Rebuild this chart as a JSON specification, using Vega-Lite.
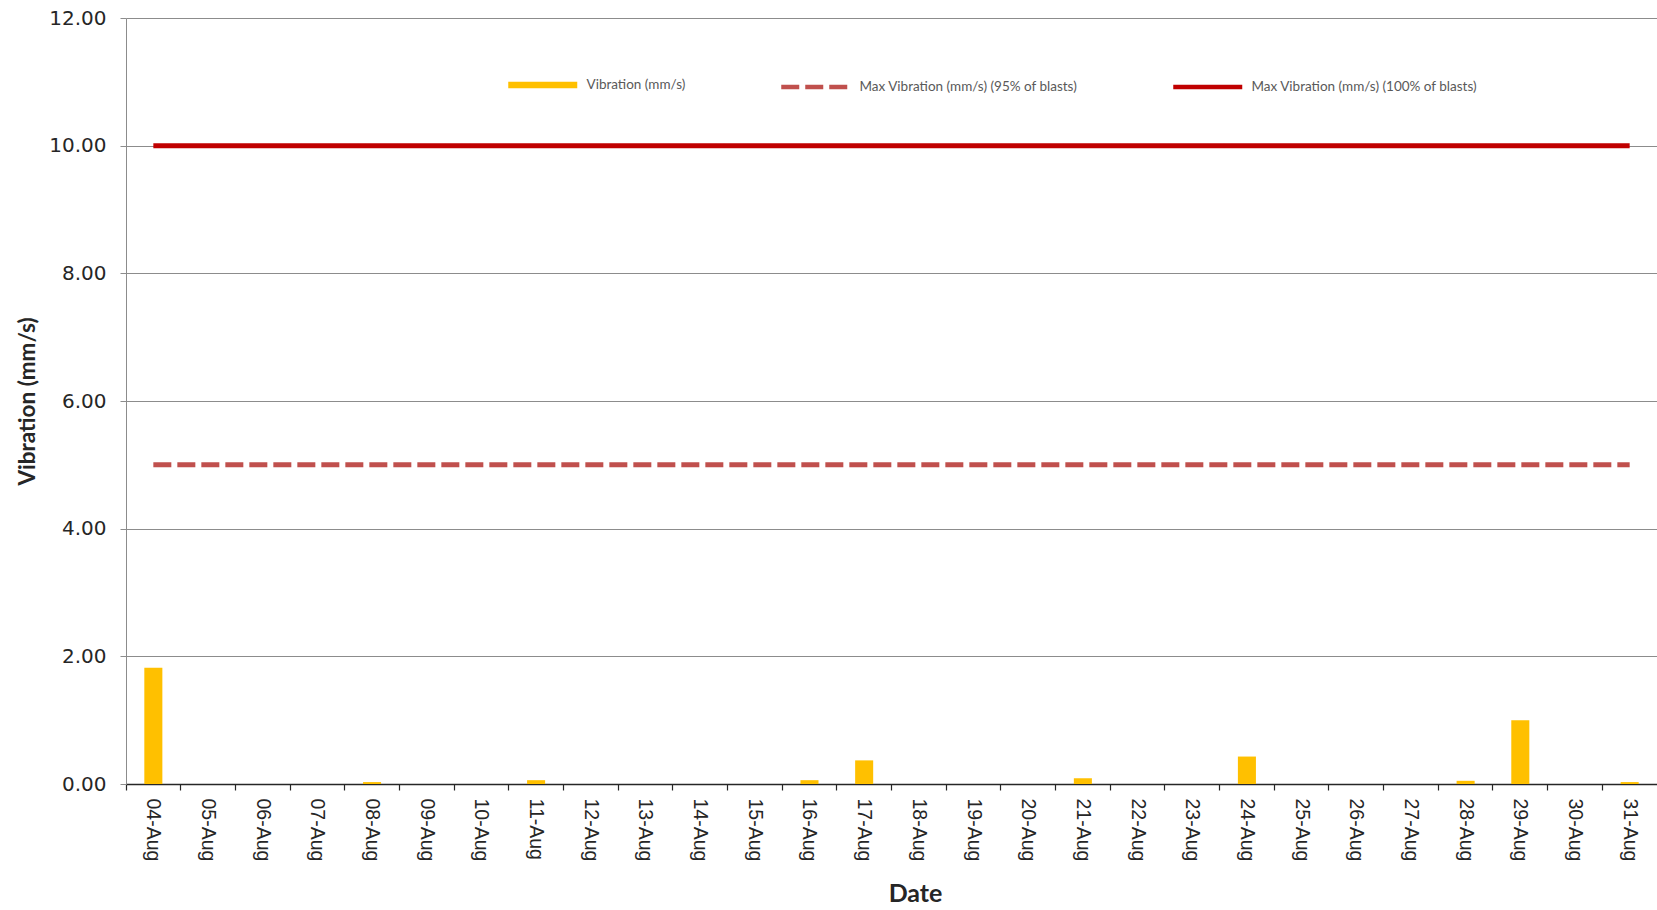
{
  "$schema": "https://vega.github.io/schema/vega-lite/v6.json",
  "autosize": {"type": "none"},
  "padding": {"left": 126, "top": 18, "right": 0, "bottom": 126},
  "width": 1531,
  "height": 766,
  "background": "white",
  "config": {
    "view": {"stroke": null},
    "legend": {
      "orient": "none",
      "legendX": 410,
      "legendY": 60,
      "direction": "horizontal",
      "symbolType": "stroke",
      "symbolSize": 4761,
      "symbolStrokeWidth": 5,
      "labelFont": "Lato",
      "labelFontSize": 13.5,
      "labelColor": "#595959",
      "labelOffset": 37,
      "labelLimit": 500,
      "columnPadding": 86,
      "padding": 0
    }
  },
  "datasets": {
    "daily": [
      {"date": "04-Aug", "vibration": 1.82},
      {"date": "05-Aug", "vibration": 0},
      {"date": "06-Aug", "vibration": 0},
      {"date": "07-Aug", "vibration": 0},
      {"date": "08-Aug", "vibration": 0.03},
      {"date": "09-Aug", "vibration": 0},
      {"date": "10-Aug", "vibration": 0},
      {"date": "11-Aug", "vibration": 0.06},
      {"date": "12-Aug", "vibration": 0},
      {"date": "13-Aug", "vibration": 0},
      {"date": "14-Aug", "vibration": 0},
      {"date": "15-Aug", "vibration": 0},
      {"date": "16-Aug", "vibration": 0.06},
      {"date": "17-Aug", "vibration": 0.37},
      {"date": "18-Aug", "vibration": 0},
      {"date": "19-Aug", "vibration": 0},
      {"date": "20-Aug", "vibration": 0},
      {"date": "21-Aug", "vibration": 0.09},
      {"date": "22-Aug", "vibration": 0},
      {"date": "23-Aug", "vibration": 0},
      {"date": "24-Aug", "vibration": 0.43},
      {"date": "25-Aug", "vibration": 0},
      {"date": "26-Aug", "vibration": 0},
      {"date": "27-Aug", "vibration": 0},
      {"date": "28-Aug", "vibration": 0.05},
      {"date": "29-Aug", "vibration": 1.0},
      {"date": "30-Aug", "vibration": 0},
      {"date": "31-Aug", "vibration": 0.03}
    ],
    "limits": [
      {"series": "Max Vibration (mm/s) (95% of blasts)", "start": "04-Aug", "end": "31-Aug", "value": 5},
      {"series": "Max Vibration (mm/s) (100% of blasts)", "start": "04-Aug", "end": "31-Aug", "value": 10}
    ]
  },
  "encoding": {
    "x": {
      "field": "date",
      "type": "ordinal",
      "sort": null,
      "scale": {
        "domain": ["04-Aug","05-Aug","06-Aug","07-Aug","08-Aug","09-Aug","10-Aug","11-Aug","12-Aug","13-Aug","14-Aug","15-Aug","16-Aug","17-Aug","18-Aug","19-Aug","20-Aug","21-Aug","22-Aug","23-Aug","24-Aug","25-Aug","26-Aug","27-Aug","28-Aug","29-Aug","30-Aug","31-Aug"],
        "paddingInner": 0,
        "paddingOuter": 0
      },
      "axis": {
        "title": "Date",
        "titleFont": "Lato",
        "titleFontWeight": "bold",
        "titleFontSize": 25,
        "titleColor": "#262626",
        "titleX": 789,
        "titleY": 109,
        "titleBaseline": "middle",
        "titleAlign": "center",
        "labelAngle": 90,
        "labelFont": "Liberation Sans",
        "labelFontSize": 19.5,
        "labelColor": "#262626",
        "labelPadding": 8,
        "bandPosition": 0,
        "domainColor": "#262626",
        "domainWidth": 1.5,
        "tickColor": "#262626",
        "tickSize": 6,
        "tickWidth": 1.2,
        "grid": false
      }
    }
  },
  "layer": [
    {
      "data": {"name": "daily"},
      "mark": {"type": "bar", "color": "#FFC000", "width": {"band": 0.33}},
      "encoding": {
        "y": {
          "field": "vibration",
          "type": "quantitative",
          "scale": {"domain": [0, 12], "nice": false},
          "axis": {
            "title": "Vibration (mm/s)",
            "titleFont": "Lato",
            "titleFontWeight": "bold",
            "titleFontSize": 22.5,
            "titleColor": "#262626",
            "titleX": -99,
            "titleY": 383,
            "titleBaseline": "middle",
            "titleAlign": "center",
            "values": [0, 2, 4, 6, 8, 10, 12],
            "format": ".2f",
            "labelFont": "DejaVu Sans",
            "labelFontSize": 20,
            "labelColor": "#262626",
            "labelPadding": 14,
            "domainColor": "#8C8C8C",
            "tickColor": "#8C8C8C",
            "tickSize": 6,
            "grid": true,
            "gridColor": "#8C8C8C",
            "gridWidth": 1
          }
        }
      }
    },
    {
      "data": {"name": "limits"},
      "mark": {"type": "rule", "strokeWidth": 5, "strokeCap": "butt"},
      "encoding": {
        "x": {"field": "start", "type": "ordinal", "sort": null},
        "x2": {"field": "end"},
        "y": {"field": "value", "type": "quantitative"},
        "color": {
          "field": "series",
          "type": "nominal",
          "scale": {
            "domain": ["Vibration (mm/s)", "Max Vibration (mm/s) (95% of blasts)", "Max Vibration (mm/s) (100% of blasts)"],
            "range": ["#FFC000", "#C0504D", "#C00000"]
          },
          "legend": {
            "title": null,
            "encode": {
              "symbols": {
                "update": {
                  "strokeWidth": {"signal": "datum.value === 'Vibration (mm/s)' ? 6.5 : 4.5"}
                }
              }
            }
          }
        },
        "strokeDash": {
          "field": "series",
          "type": "nominal",
          "scale": {
            "domain": ["Vibration (mm/s)", "Max Vibration (mm/s) (95% of blasts)", "Max Vibration (mm/s) (100% of blasts)"],
            "range": [[1, 0], [18, 6], [1, 0]]
          },
          "legend": null
        }
      }
    }
  ]
}
